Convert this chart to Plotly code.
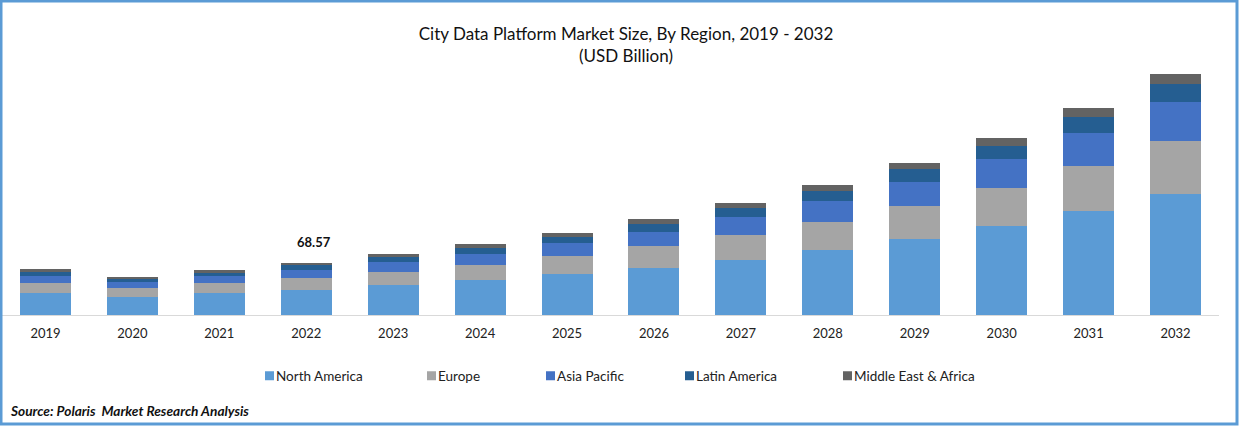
import plotly.graph_objects as go

years = ["2019","2020","2021","2022","2023","2024","2025","2026","2027","2028","2029","2030","2031","2032"]
north_america = [29.0,23.7,29.0,33.0,39.6,46.2,54.1,62.0,72.5,85.7,100.2,117.4,137.1,159.6]
europe = [13.2,11.9,13.2,15.8,17.1,19.8,23.7,29.0,33.0,36.9,43.5,50.1,59.3,69.9]
asia_pacific = [9.2,7.9,9.2,10.5,13.2,14.5,17.1,18.5,23.7,27.7,31.6,38.2,43.5,51.4]
latin_america = [6.6,3.6,4.0,6.6,6.6,7.9,7.9,10.5,11.9,13.2,17.1,17.1,21.1,23.7]
mea = [2.6,3.0,4.0,2.67,4.0,5.3,5.3,6.6,6.6,7.9,7.9,10.5,11.9,13.2]
series = [("North America",north_america,"#5B9BD5"),("Europe",europe,"#A5A5A5"),
          ("Asia Pacific",asia_pacific,"#4472C4"),("Latin America",latin_america,"#255E91"),
          ("Middle East & Africa",mea,"#636363")]
legend_x = [264.5,426.5,545.5,684.5,842.5]
W,H=1239,426
L,R,T,B=2,20,40,111
FONT="Lato"
fig=go.Figure()
layout_legends={}
for i,(n,v,c) in enumerate(series):
    key="legend" if i==0 else f"legend{i+1}"
    fig.add_bar(x=years,y=v,name=n,marker_color=c,marker_line_width=0,legend=key,showlegend=True)
    layout_legends[key]=dict(x=(legend_x[i]-15-L)/(W-L-R),y=-(376-315)/(H-T-B),xanchor="left",yanchor="middle",
        bgcolor="rgba(0,0,0,0)",font=dict(family=FONT,size=13.5,color="#222"),borderwidth=0)
fig.update_layout(**layout_legends)
fig.update_layout(width=W,height=H,barmode="stack",bargap=0.413,paper_bgcolor="white",plot_bgcolor="white",
    margin=dict(l=L,r=R,t=T,b=B,autoexpand=False),font=dict(family=FONT,color="#222"),
    title=dict(text="City Data Platform Market Size, By Region, 2019 - 2032<br>(USD Billion)",x=626/W,xanchor="center",y=0.906,yanchor="middle",font=dict(family=FONT,size=17,color="#111")),
    xaxis=dict(type="category",range=[-0.5,13.5],showgrid=False,linecolor="#D9D9D9",linewidth=1,ticks="",tickfont=dict(family=FONT,size=13,color="#222"),ticklabelstandoff=6),
    yaxis=dict(visible=False,range=[0,362.6],showgrid=False),
    shapes=[dict(type="rect",xref="paper",yref="paper",layer="above",
        x0=(1-L)/(W-L-R),x1=(W-2-L)/(W-L-R),y0=-(H-2-(H-B))/(H-T-B),y1=1+(T-1)/(H-T-B),
        line=dict(color="#5B9BD5",width=3),fillcolor="rgba(0,0,0,0)")],
    annotations=[
        dict(x=years.index("2022"),y=68.57,yshift=21,xshift=8,text="<b>68.57</b>",showarrow=False,font=dict(family=FONT,size=13,color="#111")),
        dict(xref="paper",yref="paper",x=(8-L)/(W-L-R),y=-(410-315)/(H-T-B),xanchor="left",yanchor="middle",showarrow=False,
             text="<b><i>Source: Polaris  Market Research Analysis</i></b>",font=dict(family=FONT,size=13.7,color="#111")),
    ])
post = """
document.body.style.margin='0';
function tidyLegend(){
  document.querySelectorAll('.legendtext,.legend2text,.legend3text,.legend4text,.legend5text').forEach(function(t){t.setAttribute('transform','translate(-13.5,0)');});
  document.querySelectorAll('.legendpoints path').forEach(function(p){p.setAttribute('d','M4.5,4.5H-4.5V-4.5H4.5Z');});
}
tidyLegend();
setTimeout(tidyLegend,50);
setTimeout(tidyLegend,300);
"""
fig.write_html("out.html",config={"displayModeBar":False},post_script=post)
